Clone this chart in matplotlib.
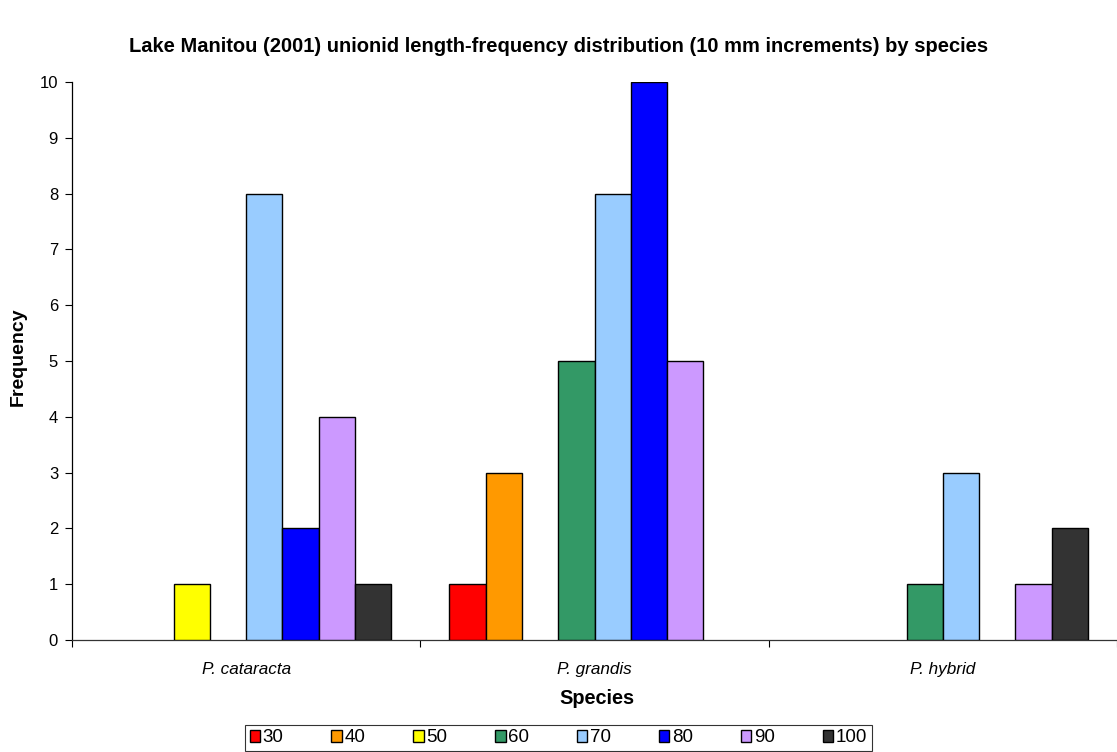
import matplotlib.pyplot as plt
import numpy as np

plt.rcParams['font.family'] = ['Liberation Sans', 'DejaVu Sans']

species = ['P. cataracta', 'P. grandis', 'P. hybrid']
size_classes = ['30', '40', '50', '60', '70', '80', '90', '100']
colors = ['#FF0000', '#FF9900', '#FFFF00', '#339966',
          '#99CCFF', '#0000FF', '#CC99FF', '#333333']

# frequency per size class, one list per species
cataracta = [0, 0, 1, 0, 8, 2, 4, 1]
grandis = [1, 3, 0, 5, 8, 10, 5, 0]
hybrid = [0, 0, 0, 1, 3, 0, 1, 2]

counts = np.array([cataracta, grandis, hybrid])

W, H = 1117, 752
fig = plt.figure(figsize=(W / 100, H / 100), dpi=100)
ax = fig.add_axes([72 / W, 1 - 640 / H, 1 - 72 / W, (640 - 82) / H])

n = len(size_classes)
pad = 0.083
w = (1 - 2 * pad) / n
for j, (lab, c) in enumerate(zip(size_classes, colors)):
    x = np.arange(len(species)) + pad + (j + 0.5) * w
    vals = counts[:, j]
    keep = vals > 0
    ax.bar(x[keep], vals[keep], width=w, color=c, edgecolor='black',
           linewidth=1.0, zorder=3)
    # legend proxy
    ax.bar([0], [0], width=0, color=c, edgecolor='black', linewidth=1.0, label=lab)

ax.set_xlim(0, 3 * (W - 72) / 1051)
ax.set_ylim(0, 10)
ax.set_yticks(range(0, 11))
ax.tick_params(axis='y', direction='out', length=5, width=0.8, labelsize=12, pad=5)

ax.set_xticks([0, 1, 2, 3])
ax.set_xticklabels([])
ax.tick_params(axis='x', which='major', direction='out', length=5, width=0.8)
ax.set_xticks(np.arange(len(species)) + 0.5, minor=True)
ax.set_xticklabels(species, minor=True, style='italic', fontsize=12.3)
ax.tick_params(axis='x', which='minor', length=0, pad=16)

for s in ['top', 'right']:
    ax.spines[s].set_visible(False)
ax.spines['left'].set_linewidth(0.9)
ax.spines['bottom'].set_linewidth(0.9)
ax.spines['bottom'].set_color('#333333')

fig.text(18 / W, 1 - 357 / H, 'Frequency', rotation=90, ha='center', va='center',
         fontsize=14, fontweight='bold')
fig.text(597 / W, 1 - 698 / H, 'Species', ha='center', va='center',
         fontsize=14.3, fontweight='bold')
fig.text(559 / W, 1 - 47 / H,
         'Lake Manitou (2001) unionid length-frequency distribution (10 mm increments) by species',
         ha='center', va='center', fontsize=14.5, fontweight='bold')

leg = fig.legend(loc='center', bbox_to_anchor=(558.5 / W, 1 - 738 / H), ncol=8,
                 fontsize=13.5, frameon=True, fancybox=False, edgecolor='black',
                 handlelength=0.55, handleheight=0.55, handletextpad=0.15,
                 columnspacing=2.55, borderpad=0.25, borderaxespad=0)
leg.get_frame().set_linewidth(0.8)

fig.savefig('out.png', dpi=100)
